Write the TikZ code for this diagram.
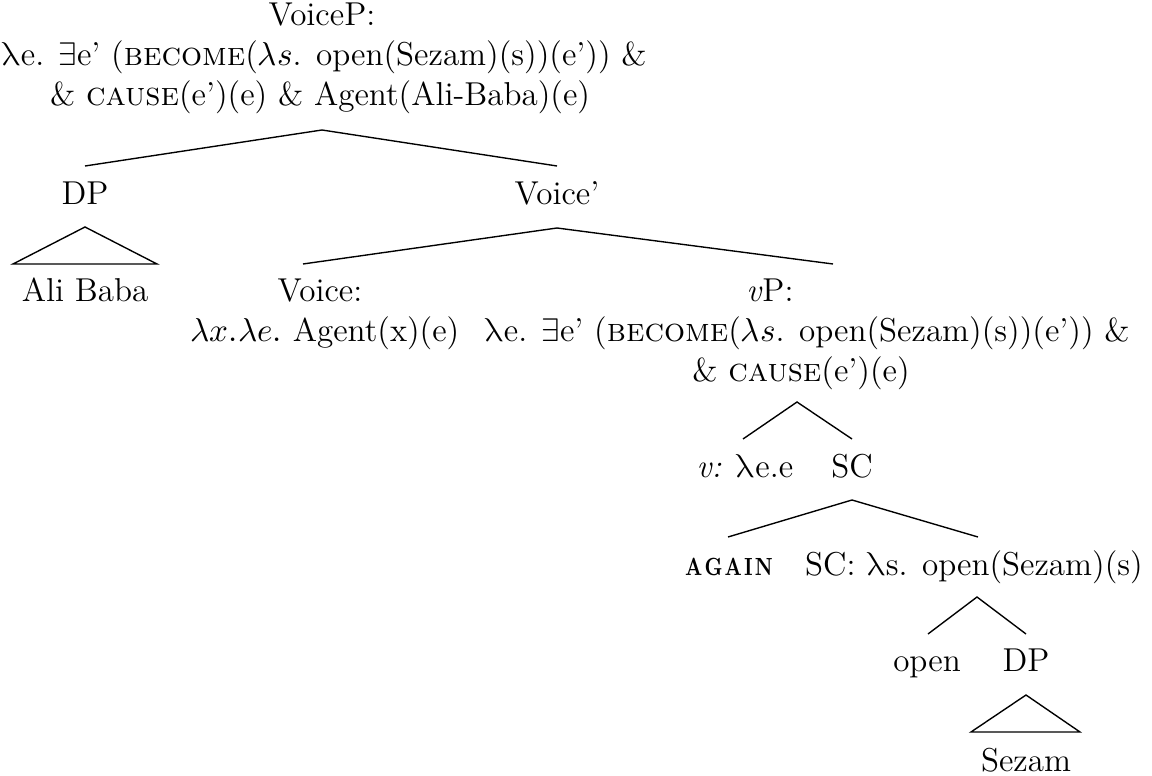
\documentclass[tikz,border=0pt]{standalone}
\usepackage{graphicx}
\usepackage{fontspec}
\usepackage{unicode-math}
\setmathfont{Latin Modern Math}
\newcommand{\ulam}{\ensuremath{\symup{\lambda}}}
\newcommand{\againword}{\scalebox{0.78}[1]{A\kern1pt G\kern1pt A\kern1pt I\kern1pt N}}
\begin{document}
\begin{tikzpicture}[x=0.3626pt,y=-0.3626pt,
  every node/.style={font=\fontsize{12}{14.5}\selectfont, inner sep=0pt},
  lbl/.style={anchor=base},
  agn/.style={anchor=base, font=\bfseries\fontsize{9}{11}\selectfont},
  br/.style={line width=0.5pt}]
\useasboundingbox (0,0) rectangle (1152,776);
% VoiceP
\node[lbl] (voicep) at (322,26) {VoiceP:};
\node[lbl] (voicepa) at (324,66) {\ulam e. $\exists$e' (\textsc{become}($\lambda s$. open(Sezam)(s))(e')) \&};
\node[lbl] (voicepb) at (320,106) {\& \textsc{cause}(e')(e) \& Agent(Ali-Baba)(e)};
\coordinate (voicep-b) at (322,130);
% DP
\node[lbl] (dp1) at (85,205) {DP};
\coordinate (dp1-t) at (85,166);
\coordinate (dp1-a) at (85,227);
\coordinate (dp1-l) at (13,264);
\coordinate (dp1-r) at (157,264);
\node[lbl] (alibaba) at (85,302) {Ali Baba};
% Voice'
\node[lbl] (voicebar) at (557,205) {Voice'};
\coordinate (voicebar-t) at (557,166);
\coordinate (voicebar-b) at (557,228);
% Voice
\node[lbl] (voice) at (320,302) {Voice:};
\node[lbl] (voicea) at (325,342) {$\lambda x.\lambda e.$ Agent(x)(e)};
\coordinate (voice-t) at (303,264);
% vP
\node[lbl] (vp) at (770,302) {\textit{v}P:};
\node[lbl] (vpa) at (807,342) {\ulam e. $\exists$e' (\textsc{become}($\lambda s$. open(Sezam)(s))(e')) \&};
\node[lbl] (vpb) at (801,382) {\& \textsc{cause}(e')(e)};
\coordinate (vp-t) at (833,264);
\coordinate (vp-b) at (797,402);
% v and SC
\node[lbl] (v) at (745,478) {\textit{v:} \ulam e.e};
\coordinate (v-t) at (743,439);
\node[lbl] (sc1) at (852,478) {SC};
\coordinate (sc1-t) at (852,439);
\coordinate (sc1-b) at (852,500);
% AGAIN and SC
\node[agn] (again) at (729,575) {\againword};
\coordinate (again-t) at (728,537);
\node[lbl] (sc2) at (974,575) {SC: \ulam s. open(Sezam)(s)};
\coordinate (sc2-t) at (978,537);
\coordinate (sc2-b) at (977,597);
% open and DP
\node[lbl] (open) at (927,672) {open};
\coordinate (open-t) at (928,634);
\node[lbl] (dp2) at (1026,672) {DP};
\coordinate (dp2-t) at (1026,634);
\coordinate (dp2-a) at (1026,695);
\coordinate (dp2-l) at (971,732);
\coordinate (dp2-r) at (1080,732);
\node[lbl] (sezam) at (1026,771) {Sezam};
% branches
\draw[br] (dp1-t) -- (voicep-b) -- (voicebar-t);
\draw[br] (dp1-l) -- (dp1-a) -- (dp1-r) -- cycle;
\draw[br] (voice-t) -- (voicebar-b) -- (vp-t);
\draw[br] (v-t) -- (vp-b) -- (sc1-t);
\draw[br] (again-t) -- (sc1-b) -- (sc2-t);
\draw[br] (open-t) -- (sc2-b) -- (dp2-t);
\draw[br] (dp2-l) -- (dp2-a) -- (dp2-r) -- cycle;
\end{tikzpicture}
\end{document}
